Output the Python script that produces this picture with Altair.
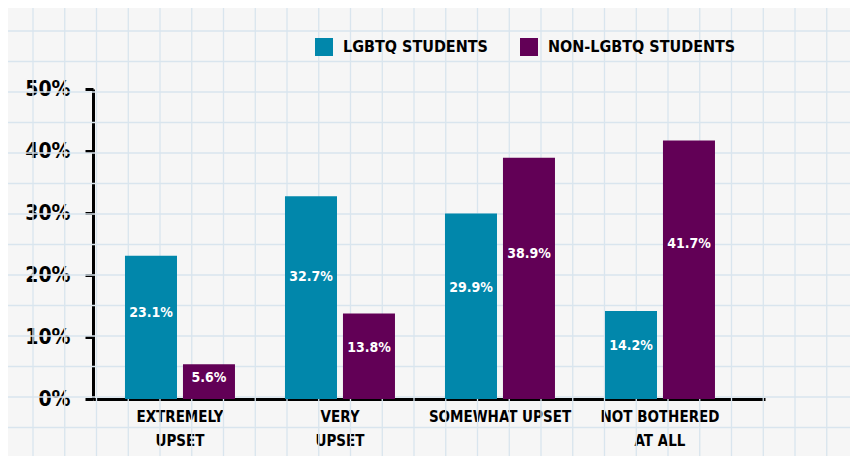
import altair as alt
import pandas as pd

# ---- data ----
categories = ["EXTREMELY\nUPSET", "VERY\nUPSET", "SOMEWHAT UPSET", "NOT BOTHERED\nAT ALL"]
groups = ["LGBTQ STUDENTS", "NON-LGBTQ STUDENTS"]
lgbtq = [23.1, 32.7, 29.9, 14.2]
non_lgbtq = [5.6, 13.8, 38.9, 41.7]
y_ticks = [0, 10, 20, 30, 40, 50]
colors = ["#0187AB", "#620056"]

rows = []
for c, a, b in zip(categories, lgbtq, non_lgbtq):
    rows.append({"category": c, "group": groups[0], "value": a})
    rows.append({"category": c, "group": groups[1], "value": b})
df = pd.DataFrame(rows)

FONT = "'DejaVu Sans Condensed', 'DejaVu Sans', sans-serif"
W, H = 672, 310
GRID = "#d9e5ee"

# ---- decorative graph-paper background ----
vgrid = (
    alt.Chart(alt.sequence(0, 27, as_="i"))
    .transform_calculate(px="-60 + 31.75 * datum.i")
    .mark_rule(color=GRID, strokeWidth=1.3)
    .encode(x=alt.X("px:Q", scale=None, axis=None), y=alt.value(-81), y2=alt.value(367))
)
hgrid = (
    alt.Chart(alt.sequence(0, 15, as_="i"))
    .transform_calculate(py="-58 + 30.5 * datum.i")
    .mark_rule(color=GRID, strokeWidth=1.3)
    .encode(y=alt.Y("py:Q", scale=None, axis=None), x=alt.value(-85), x2=alt.value(757))
)

# ---- bars ----
base = alt.Chart(df)
x_enc = alt.X(
    "category:N",
    sort=categories,
    title=None,
    scale=alt.Scale(paddingInner=0.3125, paddingOuter=0.25625, align=0.39),
    axis=alt.Axis(
        labelAngle=0,
        labelExpr="split(datum.label, '\\n')",
        labelFont=FONT,
        labelFontSize=15,
        labelFontWeight="bold",
        labelLineHeight=24,
        labelColor="black",
        labelPadding=10,
        labelBaseline="top",
        labelLimit=0,
        ticks=False,
        domainColor="black",
        domainWidth=3,
        grid=False,
    ),
)
xoff = alt.XOffset("group:N", sort=groups, scale=alt.Scale(paddingInner=0.103, paddingOuter=0))
y_scale = alt.Scale(domain=[0, 50])

bars = base.mark_bar().encode(
    x=x_enc,
    xOffset=xoff,
    y=alt.Y(
        "value:Q",
        scale=y_scale,
        title=None,
        axis=alt.Axis(
            values=y_ticks,
            labelExpr="datum.value + '%'",
            labelFont=FONT,
            labelFontSize=21,
            labelFontWeight="bold",
            labelColor="black",
            labelPadding=15,
            tickSize=8,
            tickWidth=3,
            tickColor="black",
            domainColor="black",
            domainWidth=3,
            grid=False,
        ),
    ),
    color=alt.Color(
        "group:N",
        sort=groups,
        scale=alt.Scale(domain=groups, range=colors),
        legend=alt.Legend(
            title=None,
            orient="none",
            legendX=222,
            legendY=-51,
            direction="horizontal",
            symbolType="square",
            symbolSize=324,
            symbolStrokeWidth=0,
            symbolOpacity=1,
            labelFont=FONT,
            labelFontSize=16,
            labelFontWeight="bold",
            labelColor="black",
            labelOffset=10,
            labelLimit=0,
            columnPadding=32,
        ),
    ),
)

texts = (
    base.transform_calculate(
        ly="datum.value * 0.6", label="format(datum.value, '.1f') + '%'"
    )
    .mark_text(color="white", font=FONT, fontSize=14, fontWeight="bold")
    .encode(
        x=alt.X("category:N", sort=categories),
        xOffset=xoff,
        y=alt.Y("ly:Q", scale=y_scale),
        text=alt.Text("label:N"),
    )
)

main = alt.layer(bars, texts)

chart = (
    alt.layer(vgrid, hgrid, main)
    .resolve_scale(x="independent", y="independent")
    .properties(
        width=W,
        height=H,
        background="#f6f6f6",
        padding={"left": 85, "top": 81, "right": 85, "bottom": 57},
        autosize=alt.AutoSizeParams(type="none"),
    )
    .configure_view(stroke=None)
)

chart.save("out.html", embed_options={"renderer": "svg", "actions": False})
